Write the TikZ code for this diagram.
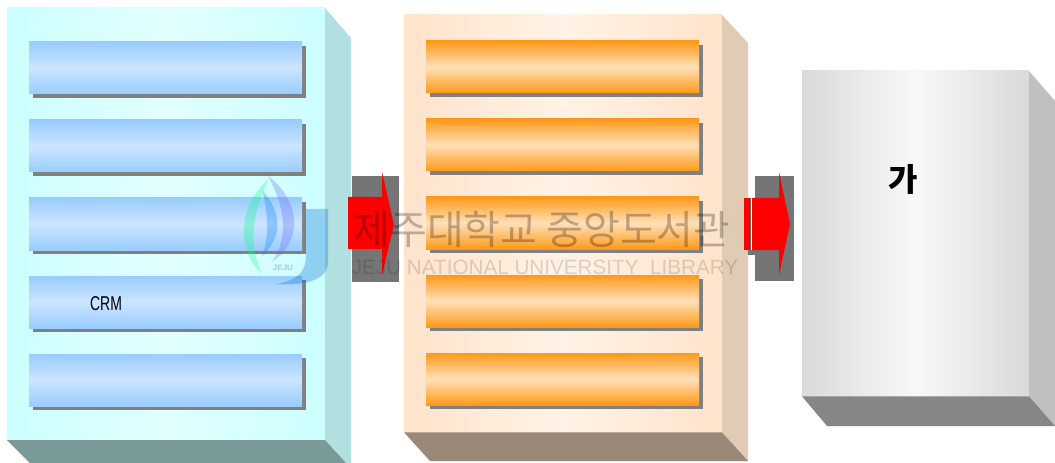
\documentclass[tikz,border=0pt]{standalone}
\usepackage{fontspec}
\setmainfont{Liberation Sans}
\newfontfamily\krfont{Noto Sans CJK KR}
\usetikzlibrary{positioning,calc,shadows}
\definecolor{cyanedge}{HTML}{CCFFFF}
\definecolor{cyanmid}{HTML}{E2FFFF}
\definecolor{peachedge}{HTML}{FFE3CB}
\definecolor{peachmid}{HTML}{FFF3E6}
\definecolor{greyedge}{HTML}{DADADA}
\definecolor{greymid}{HTML}{F8F8F8}
\definecolor{blueedge}{HTML}{99CCFF}
\definecolor{bluemid}{HTML}{CCE5FF}
\definecolor{orangeedge}{HTML}{FF9919}
\definecolor{orangemid}{HTML}{FFE0B8}
\definecolor{barshadow}{HTML}{808080}
\tikzset{
  panel/.style={anchor=north west,inner sep=0pt,outer sep=0pt},
  bar/.style={inner sep=0pt,outer sep=0pt,minimum width=204.75pt,minimum height=39pt,
    drop shadow={shadow xshift=3pt,shadow yshift=-3pt,fill=barshadow,opacity=1}},
  bluebar/.style={bar,top color=blueedge,bottom color=blueedge,middle color=bluemid},
  orangebar/.style={bar,top color=orangeedge,bottom color=orangeedge,middle color=orangemid},
  backplate/.style={fill=black!54,inner sep=0pt,outer sep=0pt},
  redarrow/.style={fill=red},
  mark text/.style={text=black,opacity=.2,inner sep=0pt}
}
\begin{document}
\begin{tikzpicture}[x=.75pt,y=-.75pt,every node/.style={font=\small}]
  \useasboundingbox (0,0) rectangle (1055,463);
  % left block
  \node[panel,minimum width=238.5pt,minimum height=324pt,left color=cyanedge,right color=cyanedge,middle color=cyanmid] (a) at (7,8) {};
  \fill[fill={rgb,255:red,178;green,224;blue,224}] (a.north east)--(351,38)--(351,463)--(346,463)--(a.south east)--cycle;
  \fill[fill={rgb,255:red,122;green,153;blue,153}] (a.south west)--(a.south east)--(346,463)--(30,463)--cycle;
  \node[bluebar,anchor=north west] (a1) at (29,42) {};
  \node[bluebar,below=19.5pt of a1] (a2) {};
  \node[bluebar,below=19.5pt of a2] (a3) {};
  \node[bluebar,below=19.5pt of a3] (a4) {};
  \node[bluebar,below=19.5pt of a4] (a5) {};
  \node[font=\fontsize{15}{17}\selectfont] (crm) at (106,304) {\scalebox{.7}[1]{CRM}};
  % middle block
  \node[panel,minimum width=238.5pt,minimum height=313pt,left color=peachedge,right color=peachedge,middle color=peachmid] (b) at (404,15) {};
  \fill[fill={rgb,255:red,224;green,203;blue,181}] (b.north east)--(748,43)--(748,461)--(b.south east)--cycle;
  \fill[fill={rgb,255:red,154;green,136;blue,120}] (b.south west)--(b.south east)--(748,461)--(430,461)--cycle;
  \node[orangebar,anchor=north west] (b1) at (426,41) {};
  \node[orangebar,below=19.5pt of b1] (b2) {};
  \node[orangebar,below=19.5pt of b2] (b3) {};
  \node[orangebar,below=19.5pt of b3] (b4) {};
  \node[orangebar,below=19.5pt of b4] (b5) {};
  % right block
  \node[panel,minimum width=170.25pt,minimum height=244pt,left color=greyedge,right color=greyedge,middle color=greymid] (c) at (802,71) {};
  \fill[fill={rgb,255:red,192;green,192;blue,192}] (c.north east)--(1055,101)--(1055,426)--(c.south east)--cycle;
  \fill[fill={rgb,255:red,134;green,134;blue,134}] (c.south west)--(c.south east)--(1055,426)--(827,426)--cycle;
  \node[font=\krfont\bfseries\fontsize{24}{28}\selectfont] (ga) at (903,179) {가};
  % arrows
  \fill[backplate] (352,176) rectangle (399,282);
  \fill[redarrow] (348,197)--(382,197)--(382,172)--(394,225)--(382,275)--(382,249)--(348,249)--cycle;
  \fill[backplate] (755,176) rectangle (794,281);
  \fill[backplate] (748,250) rectangle (755,255);
  \fill[redarrow] (744,198) rectangle (746.5,250);
  \fill[redarrow] (747,198) rectangle (750,250);
  \fill[black!60] (750,198) rectangle (751,250);
  \fill[redarrow] (752,198)--(779,198)--(779,172)--(790,224)--(779,275)--(779,250)--(752,250)--cycle;
  % library mark
  \begin{scope}[opacity=.3]
    \fill[black!30!blue!60!cyan] (300,209)--(328,209)--(328,262) .. controls (328,278) and (310,286) .. (276,284) .. controls (300,280) and (306,270) .. (306,255) -- (306,209) -- cycle;
    \fill[blue!60] (268,176) .. controls (300,200) and (304,240) .. (272,262) .. controls (290,236) and (284,205) .. (268,176) -- cycle;
    \fill[blue!50!cyan] (262,190) .. controls (285,215) and (280,240) .. (262,256) .. controls (270,235) and (268,212) .. (262,190) -- cycle;
    \fill[green!50!cyan] (268,180) .. controls (238,205) and (236,250) .. (262,274) .. controls (248,245) and (252,215) .. (268,180) -- cycle;
  \end{scope}
  \node[mark text,font=\bfseries\fontsize{6}{7}\selectfont] (jeju) at (283,268) {JEJU};
  \node[mark text,opacity=.26,font=\krfont\fontsize{30}{33}\selectfont] (lib) at (542,229) {제주대학교 중앙도서관};
  \node[mark text,opacity=.14,font=\fontsize{15.5}{18}\selectfont] (libeng) at (545,267) {JEJU NATIONAL UNIVERSITY\ \ LIBRARY};
\end{tikzpicture}
\end{document}
